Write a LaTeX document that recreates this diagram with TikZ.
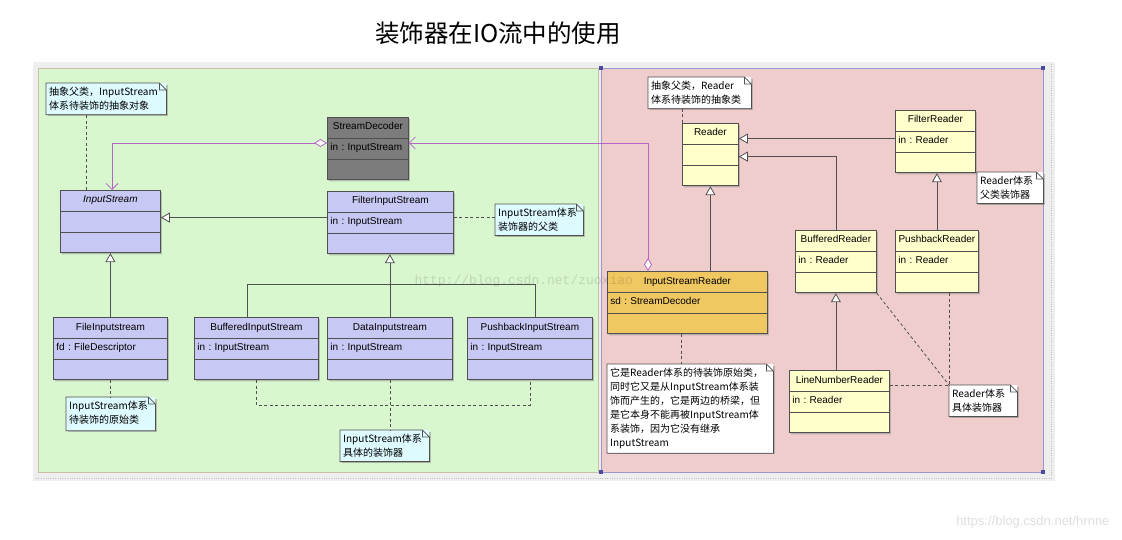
\documentclass[tikz,border=0pt]{standalone}
\usepackage{fontspec}
\setmainfont{Liberation Sans}
\newfontfamily\cjk{Noto Sans CJK SC}
\newfontfamily\mono{Liberation Mono}
\usetikzlibrary{shapes.multipart,arrows.meta,shadows}

\definecolor{canvasbg}{HTML}{EEEEEE}
\definecolor{leftbg}{HTML}{D9F7CF}
\definecolor{leftrim}{HTML}{C9BFA5}
\definecolor{rightbg}{HTML}{EFCDCD}
\definecolor{rightrim}{HTML}{9A96CC}
\definecolor{rimdot}{HTML}{4A4AA0}
\definecolor{lav}{HTML}{C8C8F4}
\definecolor{decgray}{HTML}{7C7C7C}
\definecolor{isrorange}{HTML}{F0C862}
\definecolor{rdyellow}{HTML}{FFFFCC}
\definecolor{notecyan}{HTML}{DDFAFF}
\definecolor{linec}{HTML}{505050}
\definecolor{assocc}{HTML}{B466C8}
\newcommand\clsname[1]{\strut\hfill\mbox{#1}\hfill\mbox{}}

\begin{document}
\begin{tikzpicture}[x=1pt,y=-1pt,
  cls/.style={rectangle split, rectangle split parts=3, draw=linec, line width=0.8pt,
    text width=#1pt, inner xsep=3pt, inner ysep=4.5pt, anchor=north west,
    font=\fontsize{10}{11}\selectfont\frenchspacing,
    drop shadow={shadow xshift=1.5pt,shadow yshift=-1.5pt,fill=black!45}},
  notebox/.style={fill=#1, anchor=north west, inner xsep=3pt, inner ysep=4pt, align=left,
    font=\cjk\fontsize{10}{14}\selectfont,
    drop shadow={shadow xshift=1.5pt,shadow yshift=-1.5pt,fill=black!45}},
  solidln/.style={draw=linec, line width=0.8pt},
  link/.style={draw=linec, line width=0.8pt, dash pattern=on 3pt off 2.5pt},
  gen/.style={solidln, -{Triangle[open,fill=white,length=9pt,width=10pt]}},
  assoc/.style={draw=assocc, line width=0.8pt,
    {Diamond[open,fill=white,length=13pt,width=8pt]}-{Straight Barb[length=6pt,width=12pt]}}]
\useasboundingbox (0,0) rectangle (1122,540);

\node (title) at (498,33) {\cjk\fontsize{24.5}{28}\selectfont 装饰器在IO流中的使用};

% canvas and the two panels
\fill[canvasbg] (33,62) rectangle (1055,481);
\draw[black!25,dotted] (36,478) -- (1052,478);
\draw[black!25,dotted] (1051,64) -- (1051,476);
\draw[leftrim,fill=leftbg] (38,68) rectangle (598,472);
\draw[rightrim,fill=rightbg] (601,68) rectangle (1043,472);
\foreach \x/\y in {601/68,1043/68,601/472,1043/472}
  \fill[rimdot] (\x-2,\y-2) rectangle (\x+2,\y+2);

% InputStream family
\node[cls=94, fill=lav] (instream) at (60,190)
  {\clsname{\textit{InputStream}}\nodepart{two}\strut\nodepart{three}\strut};
\node[cls=75, fill=decgray] (decoder) at (327,117)
  {\clsname{StreamDecoder}\nodepart{two}\strut in : InputStream\nodepart{three}\strut};
\node[cls=120, fill=lav] (filterin) at (327,191)
  {\clsname{FilterInputStream}\nodepart{two}\strut in : InputStream\nodepart{three}\strut};
\node[cls=108, fill=lav] (fileis) at (53,317)
  {\clsname{FileInputstream}\nodepart{two}\strut fd : FileDescriptor\nodepart{three}\strut};
\node[cls=118, fill=lav] (bufis) at (194,317)
  {\clsname{BufferedInputStream}\nodepart{two}\strut in : InputStream\nodepart{three}\strut};
\node[cls=119, fill=lav] (datais) at (327,317)
  {\clsname{DataInputstream}\nodepart{two}\strut in : InputStream\nodepart{three}\strut};
\node[cls=119, fill=lav] (pushis) at (467,317)
  {\clsname{PushbackInputStream}\nodepart{two}\strut in : InputStream\nodepart{three}\strut};

% Reader family
\node[cls=50, fill=rdyellow] (reader) at (682,123)
  {\clsname{Reader}\nodepart{two}\strut\nodepart{three}\strut};
\node[cls=154, fill=isrorange] (isr) at (607,271)
  {\clsname{InputStreamReader}\nodepart{two}\strut sd : StreamDecoder\nodepart{three}\strut};
\node[cls=74, fill=rdyellow] (filterrd) at (895,110)
  {\clsname{FilterReader}\nodepart{two}\strut in : Reader\nodepart{three}\strut};
\node[cls=75, fill=rdyellow] (bufrd) at (795,230)
  {\clsname{BufferedReader}\nodepart{two}\strut in : Reader\nodepart{three}\strut};
\node[cls=77, fill=rdyellow] (pushrd) at (895,230)
  {\clsname{PushbackReader}\nodepart{two}\strut in : Reader\nodepart{three}\strut};
\node[cls=94, fill=rdyellow] (linenum) at (789,370)
  {\clsname{LineNumberReader}\nodepart{two}\strut in : Reader\nodepart{three}\strut};

% notes
\node[notebox=notecyan, text width=114pt] (absnote) at (46,83) {抽象父类，InputStream\\体系待装饰的抽象对象};
\node[notebox=notecyan, text width=82pt] (decnote) at (495,204) {InputStream体系\\装饰器的父类};
\node[notebox=notecyan, text width=83pt, text depth=17pt] (srcnote) at (66,397) {InputStream体系\\待装饰的原始类};
\node[notebox=notecyan, text width=83pt] (concnote) at (340,430) {InputStream体系\\具体的装饰器};
\node[notebox=white, text width=97pt] (rdabsnote) at (648,77) {抽象父类，Reader\\体系待装饰的抽象类};
\node[notebox=white, text width=60pt] (rddecnote) at (977,172) {Reader体系\\父类装饰器};
\node[notebox=white, text width=62pt] (rdconcnote) at (949,385) {Reader体系\\具体装饰器};
\node[notebox=white, text width=160pt] (bridgenote) at (607,364)
  {它是Reader体系的待装饰原始类，\\同时它又是从InputStream体系装\\饰而产生的，它是两边的桥梁，但\\是它本身不能再被InputStream体\\系装饰，因为它没有继承\\InputStream};
\foreach \n in {absnote,decnote,srcnote,concnote,rdabsnote,rddecnote,rdconcnote,bridgenote}
  \draw[solidln] (\n.north west) -- ([xshift=-7pt]\n.north east) -- ([yshift=-7pt]\n.north east)
    -- (\n.south east) -- (\n.south west) -- cycle
    ([xshift=-7pt]\n.north east) |- ([yshift=-7pt]\n.north east);

% inheritance, left
\draw[gen] ([yshift=5pt]filterin.west) -- ([yshift=5pt]filterin.west -| instream.east);
\draw[gen] (fileis.north) -- (fileis.north |- instream.south);
\draw[gen] (datais.north) -- (datais.north |- filterin.south);
\draw[solidln] ([xshift=-9pt]bufis.north) |- ([xshift=5pt,yshift=33pt]pushis.north) -- ([xshift=5pt]pushis.north);

% inheritance, right
\draw[gen] (reader.south |- isr.north) -- (reader.south);
\draw[gen] ([yshift=3pt]filterrd.west) -- ([yshift=3pt]filterrd.west -| reader.east);
\draw[gen] (bufrd.north) |- ([yshift=-2pt]reader.east);
\draw[gen] (pushrd.north) -- (pushrd.north |- filterrd.south);
\draw[gen] (bufrd.south |- linenum.north) -- (bufrd.south);

% aggregation
\draw[assoc] ([yshift=-26pt]decoder.north west) -| ([xshift=52pt]instream.north west);
\draw[assoc] ([xshift=41pt]isr.north west) |- ([yshift=-26pt]decoder.north east);

% note links
\draw[link] ([xshift=26pt]instream.north west) -- ([xshift=26pt]instream.north west |- absnote.south);
\draw[link] ([yshift=5pt]filterin.east) -- ([yshift=5pt]filterin.east -| decnote.west);
\draw[link] (fileis.south) -- (fileis.south |- srcnote.north);
\draw[link] (bufis.south) |- ([yshift=-25pt]pushis.south) -- (pushis.south);
\draw[link] (datais.south) -- (datais.south |- concnote.north);
\draw[link] (reader.north west) -- (reader.north west |- rdabsnote.south);
\draw[link] ([xshift=74pt]isr.south west) -- ([xshift=74pt]isr.south west |- bridgenote.north);
\draw[link] (bufrd.south east) -- (rdconcnote.north west);
\draw[link] (pushrd.south -| rdconcnote.north west) -- (rdconcnote.north west);
\draw[link] (linenum.east |- rdconcnote.north west) -- (rdconcnote.north west);

% watermarks
\node[anchor=west, font=\mono\fontsize{13}{13}\selectfont, opacity=0.13] (mark) at (411,281) {http://blog.csdn.net/zuoxiao};
\node[anchor=east, font=\fontsize{13}{13}\selectfont, text=black!13] (site) at (1113,522) {https://blog.csdn.net/hrnne};
\end{tikzpicture}
\end{document}
